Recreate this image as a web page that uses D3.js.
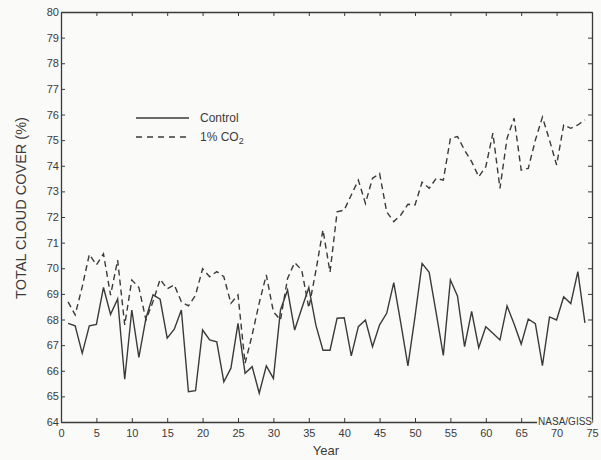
<!DOCTYPE html>
<html>
<head>
<meta charset="utf-8">
<script src="https://cdn.jsdelivr.net/npm/d3@7"></script>
<style>
  html, body { margin: 0; padding: 0; background: #fafaf9; }
  svg { display: block; }
  text { font-family: "Liberation Sans", Arial, Helvetica, sans-serif; fill: #3a3a3a; }
</style>
</head>
<body>
<svg id="chart" width="601" height="460"></svg>
<script>
const years = d3.range(1, 75);
const controlValues = [
  67.85, 67.75, 66.68, 67.75, 67.81, 69.25, 68.20, 68.80, 65.67, 68.37,
  66.52, 68.05, 68.96, 68.79, 67.27, 67.62, 68.37, 65.18, 65.22, 67.59,
  67.20, 67.13, 65.57, 66.10, 67.85, 65.90, 66.16, 65.12, 66.19, 65.70,
  68.37, 69.15, 67.59, 68.43, 69.25, 67.78, 66.80, 66.80, 68.05, 68.07,
  66.58, 67.72, 67.98, 66.94, 67.79, 68.24, 69.44, 67.85, 66.19, 68.11,
  70.19, 69.84, 68.24, 66.60, 69.54, 68.92, 66.94, 68.32, 66.90, 67.72,
  67.46, 67.20, 68.53, 67.82, 67.04, 68.02, 67.84, 66.20, 68.10, 67.98,
  68.89, 68.62, 69.87, 67.87
];
const co2Values = [
  68.69, 68.18, 69.28, 70.54, 70.13, 70.56, 68.95, 70.32, 67.79, 69.54,
  69.25, 67.98, 68.70, 69.57, 69.20, 69.35, 68.69, 68.53, 68.95, 69.98,
  69.67, 69.87, 69.67, 68.63, 68.96, 66.29, 67.40, 68.65, 69.74, 68.30,
  67.98, 69.60, 70.22, 69.93, 68.45, 69.90, 71.50, 69.85, 72.20, 72.27,
  72.86, 73.44, 72.53, 73.51, 73.70, 72.20, 71.82, 72.08, 72.50, 72.47,
  73.36, 73.12, 73.51, 73.44, 75.07, 75.14, 74.61, 74.16, 73.57, 73.96,
  75.27, 73.12, 75.07, 75.85, 73.83, 73.90, 75.00, 75.90, 75.00, 74.03,
  75.59, 75.46, 75.59, 75.79
];
const xTicks = d3.range(0, 80, 5);
const yTicks = d3.range(64, 81, 1);
const seriesNames = ["Control", "1% CO"];
const yTitle = "TOTAL CLOUD COVER (%)";
const xTitle = "Year";
const credit = "NASA/GISS";

const svg = d3.select("#chart");
const L = 61, R = 592, T = 12, B = 422;
const x = d3.scaleLinear().domain([0, 75]).range([L, R]);
const y = d3.scaleLinear().domain([64, 80]).range([B, T]);
const ink = "#3a3a3a";
const bg = "#fafaf9";

// axes
const gx = svg.append("g").attr("transform", `translate(0,${B})`)
  .call(d3.axisBottom(x).tickValues(xTicks).tickSize(-4).tickSizeOuter(0).tickPadding(7).tickFormat(d3.format("d")));
const gy = svg.append("g").attr("transform", `translate(${L},0)`)
  .call(d3.axisLeft(y).tickValues(yTicks).tickSize(-4).tickSizeOuter(0).tickPadding(2).tickFormat(d3.format("d")));
const gt = svg.append("g").attr("transform", `translate(0,${T})`)
  .call(d3.axisTop(x).tickValues(xTicks).tickSize(-4).tickSizeOuter(0).tickFormat(""));
const gr = svg.append("g").attr("transform", `translate(${R},0)`)
  .call(d3.axisRight(y).tickValues(yTicks).tickSize(-4).tickSizeOuter(0).tickFormat(""));
[gx, gy, gt, gr].forEach(g => {
  g.select(".domain").attr("stroke", ink).attr("stroke-width", 1.3);
  g.selectAll(".tick line").attr("stroke", ink).attr("stroke-width", 1);
  g.selectAll(".tick text").attr("fill", "#444").style("font-size", "11px")
    .style("font-family", '"Liberation Sans", Arial, sans-serif');
});

// lines
const line = d3.line().x((d, i) => x(years[i])).y(d => y(d));
svg.append("path").datum(controlValues)
  .attr("fill", "none").attr("stroke", ink).attr("stroke-width", 1.4)
  .attr("stroke-linejoin", "miter").attr("d", line);
svg.append("path").datum(co2Values)
  .attr("fill", "none").attr("stroke", ink).attr("stroke-width", 1.4)
  .attr("stroke-dasharray", "6,4").attr("d", line);

// credit sitting on the bottom axis
const cg = svg.append("g");
const crect = cg.append("rect").attr("fill", bg);
const ct = cg.append("text").attr("x", R).attr("y", B + 3)
  .attr("text-anchor", "end").style("font-size", "10px").text(credit);
const bb = ct.node().getBBox();
crect.attr("x", bb.x - 1).attr("y", B - 2).attr("width", bb.width + 1).attr("height", 4);

// legend
const leg = svg.append("g");
leg.append("line").attr("x1", 136).attr("x2", 189).attr("y1", 118).attr("y2", 118)
  .attr("stroke", ink).attr("stroke-width", 1.4);
leg.append("line").attr("x1", 136).attr("x2", 189).attr("y1", 137).attr("y2", 137)
  .attr("stroke", ink).attr("stroke-width", 1.4).attr("stroke-dasharray", "6,5");
leg.append("text").attr("x", 200).attr("y", 122).style("font-size", "12px").text(seriesNames[0]);
const t2 = leg.append("text").attr("x", 200).attr("y", 141).style("font-size", "12px");
t2.append("tspan").text(seriesNames[1]);
t2.append("tspan").attr("dy", 3).style("font-size", "9px").text("2");

// titles
svg.append("text").attr("x", 326).attr("y", 455).attr("text-anchor", "middle")
  .style("font-size", "13px").text(xTitle);
svg.append("text").attr("transform", "translate(26,208) rotate(-90)")
  .attr("text-anchor", "middle").style("font-size", "14.5px").text(yTitle);
</script>
</body>
</html>
